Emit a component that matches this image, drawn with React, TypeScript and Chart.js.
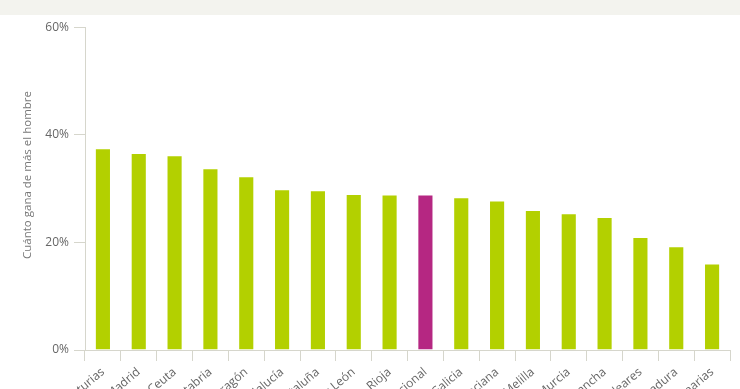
import React, { useEffect, useRef } from "react";
import { Chart, registerables } from "chart.js";

Chart.register(...registerables);

const categories = [
  "Asturias",
  "Madrid",
  "Ceuta",
  "Cantabria",
  "Aragón",
  "Andalucía",
  "Cataluña",
  "Castilla y León",
  "La Rioja",
  "Media nacional",
  "Galicia",
  "C. Valenciana",
  "Melilla",
  "Murcia",
  "Castilla-La Mancha",
  "Baleares",
  "Extremadura",
  "Canarias",
];

const values = [
  37.5, 36.6, 36.2, 33.8, 32.3, 29.9, 29.7, 29.0, 28.9, 28.9, 28.4, 27.8, 26.0,
  25.4, 24.7, 21.0, 19.3, 16.1,
];

const highlight = "Media nacional";
const yTicks = [0, 20, 40, 60];
const yTitle = "Cuánto gana de más el hombre";

const GREEN = "#b3d000";
const MAGENTA = "#b52782";
const AXIS = "#d6d6cc";

const titlePlugin = {
  id: "yTitleCustom",
  afterDraw(chart: any) {
    const ctx = chart.ctx;
    ctx.save();
    ctx.translate(28, 160);
    ctx.rotate(-Math.PI / 2);
    ctx.font = "11.5px 'Open Sans'";
    ctx.fillStyle = "#777777";
    ctx.textAlign = "center";
    ctx.textBaseline = "middle";
    ctx.fillText(yTitle, 0, 0);
    ctx.restore();
  },
};

export default function App() {
  const ref = useRef<HTMLCanvasElement | null>(null);

  useEffect(() => {
    document.body.style.margin = "0";
    if (!ref.current) return;
    const chart = new Chart(ref.current, {
      type: "bar",
      data: {
        labels: categories,
        datasets: [
          {
            data: values,
            backgroundColor: categories.map((c) => (c === highlight ? MAGENTA : GREEN)),
            borderColor: "rgba(255,255,255,0.45)",
            borderWidth: 1,
            categoryPercentage: 0.5,
            barPercentage: 0.9,
          },
        ],
      },
      options: {
        animation: false,
        responsive: false,
        layout: { padding: { top: 11, right: 10, left: 0, bottom: 0 } },
        plugins: {
          legend: { display: false },
          tooltip: { enabled: false },
        },
        scales: {
          x: {
            grid: {
              drawOnChartArea: false,
              color: AXIS,
              tickLength: 11,
              offset: true,
            },
            border: { color: AXIS },
            ticks: {
              color: "#666666",
              font: { family: "'Open Sans'", size: 12 },
              minRotation: 40,
              maxRotation: 40,
              padding: 4,
              autoSkip: false,
            },
            afterFit(scale: any) {
              scale.height = 85;
            },
          },
          y: {
            min: 0,
            max: 60,
            afterBuildTicks(scale: any) {
              scale.ticks = yTicks.map((v) => ({ value: v }));
            },
            grid: {
              drawOnChartArea: false,
              color: AXIS,
              tickLength: 11,
            },
            border: { color: AXIS },
            ticks: {
              color: "#666666",
              font: { family: "'Open Sans'", size: 12 },
              padding: 5,
              callback: (v: any) => v + "%",
            },
            afterFit(scale: any) {
              scale.width = 85;
            },
          },
        },
      },
      plugins: [titlePlugin],
    });
    return () => chart.destroy();
  }, []);

  return (
    <div style={{ width: 740, overflow: "hidden" }}>
      <div style={{ height: 15, background: "#f3f3ee" }} />
      <canvas ref={ref} width={740} height={420} style={{ display: "block" }} />
    </div>
  );
}
